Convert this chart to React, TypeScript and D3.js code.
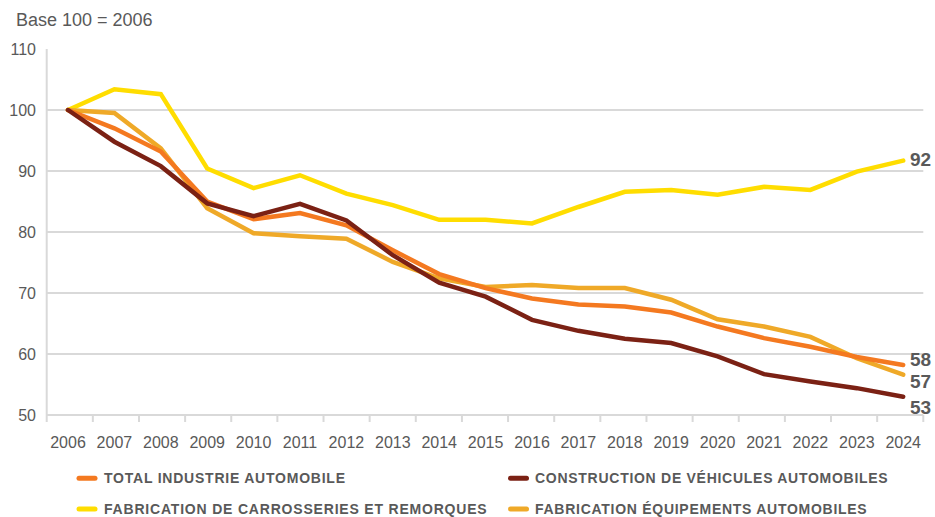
import React from "react";
import * as d3 from "d3";

const years = ["2006","2007","2008","2009","2010","2011","2012","2013","2014","2015","2016","2017","2018","2019","2020","2021","2022","2023","2024"];
const yTicks = [50, 60, 70, 80, 90, 100, 110];

const totalIndustrie = [100, 97.0, 93.2, 85.0, 82.1, 83.1, 81.1, 77.0, 73.1, 70.8, 69.1, 68.1, 67.8, 66.8, 64.5, 62.6, 61.2, 59.5, 58.2];
const constructionVehicules = [100, 94.8, 90.8, 84.7, 82.6, 84.6, 81.9, 76.2, 71.7, 69.4, 65.6, 63.8, 62.5, 61.8, 59.6, 56.7, 55.5, 54.4, 53.0];
const carrosseries = [100, 103.4, 102.6, 90.4, 87.2, 89.3, 86.3, 84.4, 82.0, 82.0, 81.4, 84.1, 86.6, 86.9, 86.1, 87.4, 86.9, 89.9, 91.7];
const equipements = [100, 99.5, 93.7, 83.9, 79.8, 79.3, 78.9, 75.1, 72.4, 71.0, 71.3, 70.8, 70.8, 68.9, 65.7, 64.5, 62.8, 59.3, 56.6];

const seriesNames = [
  "TOTAL INDUSTRIE AUTOMOBILE",
  "CONSTRUCTION DE VÉHICULES AUTOMOBILES",
  "FABRICATION DE CARROSSERIES ET REMORQUES",
  "FABRICATION ÉQUIPEMENTS AUTOMOBILES",
];
const endLabels = ["58", "53", "92", "57"];

const colors = ["#F47920", "#7B2114", "#FFDD00", "#EFA928"];

export default function App() {
  const W = 935, H = 517;
  const font = "'Liberation Sans', Arial, sans-serif";
  const textColor = "#595959";

  const x = d3.scalePoint<string>().domain(years).range([68, 903.2]);
  const xEdge = d3.scaleLinear().domain([0, years.length]).range([46.7, 923.3]);
  const y = d3.scaleLinear().domain([50, 110]).range([415, 49]);

  const line = d3.line<number>()
    .x((_, i) => x(years[i]) as number)
    .y((v) => y(v))
    .curve(d3.curveLinear);

  const data = [totalIndustrie, constructionVehicules, carrosseries, equipements];
  // draw order: yellow, gold, orange, dark (dark above orange as in reference)
  const order = [2, 3, 0, 1];
  const labelDy = [-5.5, 10, -1, 6.5];

  const legendPos = [
    { sx: 77, tx: 104, cy: 478.3, len: 241 },
    { sx: 508.5, tx: 535, cy: 478.3, len: 352.7 },
    { sx: 77, tx: 104, cy: 509, len: 382.7 },
    { sx: 508.5, tx: 535, cy: 509, len: 331.7 },
  ];

  const edges = d3.range(years.length + 1);

  return (
    <svg width={W} height={H} style={{ display: "block", position: "absolute", left: 0, top: 0 }}>
      <rect width={W} height={H} fill="#ffffff" />
      <text x={16} y={26} fontFamily={font} fontSize={18} fill={textColor}>Base 100 = 2006</text>

      {yTicks.filter((t) => t !== 110 && t !== 50).map((t) => (
        <line key={t} x1={xEdge(0)} x2={xEdge(years.length)} y1={y(t)} y2={y(t)} stroke="#D9D9D9" strokeWidth={2} />
      ))}
      <line x1={xEdge(0)} x2={xEdge(0)} y1={y(110)} y2={y(50)} stroke="#D9D9D9" strokeWidth={2} />
      <line x1={xEdge(0)} x2={xEdge(years.length)} y1={y(50)} y2={y(50)} stroke="#D9D9D9" strokeWidth={2} />
      {edges.map((e) => (
        <line key={e} x1={xEdge(e)} x2={xEdge(e)} y1={y(50)} y2={y(50) + 7} stroke="#D9D9D9" strokeWidth={2} />
      ))}

      {yTicks.map((t) => (
        <text key={t} x={36} y={y(t)} dy="0.36em" textAnchor="end" fontFamily={font} fontSize={16} fill={textColor}>{t}</text>
      ))}
      {years.map((yr) => (
        <text key={yr} x={x(yr)} y={447.5} textAnchor="middle" fontFamily={font} fontSize={16} fill={textColor}>{yr}</text>
      ))}

      {order.map((k) => (
        <path key={k} d={line(data[k]) || ""} fill="none" stroke={colors[k]} strokeWidth={4.5} strokeLinejoin="miter" strokeLinecap="round" />
      ))}

      {data.map((s, k) => (
        <text key={k} x={910} y={y(s[s.length - 1]) + labelDy[k]} dy="0.36em" fontFamily={font} fontSize={19} fontWeight="bold" fill={textColor}>{endLabels[k]}</text>
      ))}

      {seriesNames.map((name, k) => {
        const p = legendPos[k];
        return (
          <g key={k}>
            <line x1={p.sx + 2} x2={p.sx + 18} y1={p.cy} y2={p.cy} stroke={colors[k]} strokeWidth={5} strokeLinecap="round" />
            <text x={p.tx} y={p.cy} dy="0.36em" fontFamily={font} fontSize={14} fontWeight="bold" fill={textColor} textLength={p.len} lengthAdjust="spacing">{name}</text>
          </g>
        );
      })}
    </svg>
  );
}
